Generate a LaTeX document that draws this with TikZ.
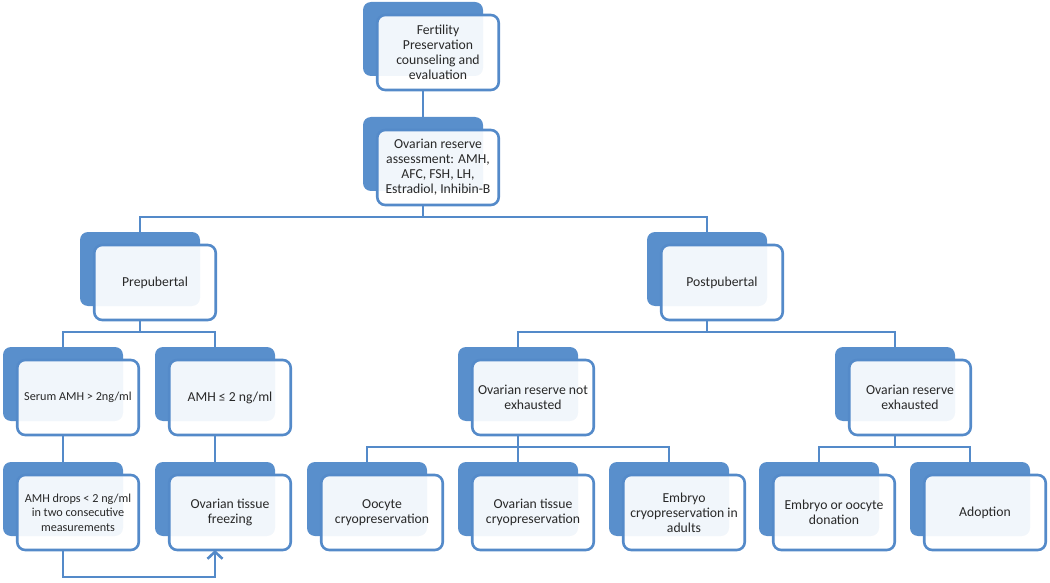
\documentclass[tikz,border=0pt]{standalone}
\usepackage{fontspec}
\setmainfont{Carlito}
\usetikzlibrary{arrows.meta,calc}
\definecolor{backblue}{RGB}{89,143,204}
\definecolor{lineblue}{RGB}{84,138,201}
\definecolor{txt}{RGB}{40,40,40}
\tikzset{
  backshape/.style={fill=backblue, draw=none, rounded corners=8pt, minimum width=120pt, minimum height=74pt, inner sep=0pt, outer sep=0pt},
  frontshape/.style={draw=lineblue, line width=2.6pt, fill=white, fill opacity=0.92, text opacity=1, rounded corners=8pt, minimum width=121.5pt, minimum height=75pt, inner sep=2pt, outer sep=0pt, align=center, text=txt, font=\fontsize{13.7}{15}\selectfont},
  smalltext/.style={font=\fontsize{12.2}{14.5}\selectfont},
  conn/.style={draw=lineblue, line width=2.6pt},
}
\newcommand{\fpbox}[5]{%
  \node[backshape, anchor=north west] (b#1) at (#2,#3) {};
  \node[frontshape,#5] (#1) at ($(b#1.north west)+(75,50.5)$) {#4};
}
\begin{document}
\begin{tikzpicture}[x=1pt,y=-1pt]
\useasboundingbox (0,0) rectangle (1050,583);
\fpbox{fert}{363}{2}{Fertility\\Preservation\\counseling and\\evaluation}{}
\fpbox{assess}{363}{117}{Ovarian reserve\\assessment: AMH,\\AFC, FSH, LH,\\Estradiol, Inhibin-B}{}
\fpbox{pre}{80}{232}{Prepubertal}{}
\fpbox{post}{647}{232}{Postpubertal}{}
\fpbox{serum}{3}{347}{Serum AMH > 2ng/ml}{smalltext}
\fpbox{amhle}{155}{347}{AMH ≤ 2 ng/ml}{}
\fpbox{notex}{458}{347}{Ovarian reserve not\\exhausted}{}
\fpbox{exh}{835}{347}{Ovarian reserve\\exhausted}{}
\fpbox{drops}{3}{462}{AMH drops < 2 ng/ml\\in two consecutive\\measurements}{smalltext}
\fpbox{otf}{155}{462}{Ovarian tissue\\freezing}{}
\fpbox{oocyte}{307}{462}{Oocyte\\cryopreservation}{}
\fpbox{otc}{458}{462}{Ovarian tissue\\cryopreservation}{}
\fpbox{embryo}{609}{462}{Embryo\\cryopreservation in\\adults}{}
\fpbox{donation}{759}{462}{Embryo or oocyte\\donation}{}
\fpbox{adoption}{910}{462}{Adoption}{}
% connectors
\draw[conn] (bfert.center |- fert.south) -- (bassess.north);
\coordinate (ja) at ($(bassess.center |- assess.south)+(0,12)$);
\draw[conn] (bassess.center |- assess.south) -- (ja);
\draw[conn] (bpre.north) |- (ja) -| (bpost.north);
\coordinate (jp) at ($(bpre.center |- pre.south)+(0,12)$);
\draw[conn] (bpre.center |- pre.south) -- (jp);
\draw[conn] (bserum.north) |- (jp) -| (bamhle.north);
\coordinate (jq) at ($(bpost.center |- post.south)+(0,12)$);
\draw[conn] (bpost.center |- post.south) -- (jq);
\draw[conn] (bnotex.north) |- (jq) -| (bexh.north);
\draw[conn] (bserum.center |- serum.south) -- (bdrops.north);
\draw[conn] (bamhle.center |- amhle.south) -- (botf.north);
\coordinate (jn) at ($(bnotex.center |- notex.south)+(0,12)$);
\draw[conn] (bnotex.center |- notex.south) -- (jn) -- (botc.north);
\draw[conn] (boocyte.north) |- (jn) -| (bembryo.north);
\coordinate (je) at ($(bexh.center |- exh.south)+(0,12)$);
\draw[conn] (bexh.center |- exh.south) -- (je);
\draw[conn] (bdonation.north) |- (je) -| (badoption.north);
\draw[conn, -{Straight Barb[length=7pt,width=15pt,line width=2.6pt]}] (bdrops.center |- drops.south) -- ++(0,27) -| (botf.center |- otf.south);
\end{tikzpicture}
\end{document}
